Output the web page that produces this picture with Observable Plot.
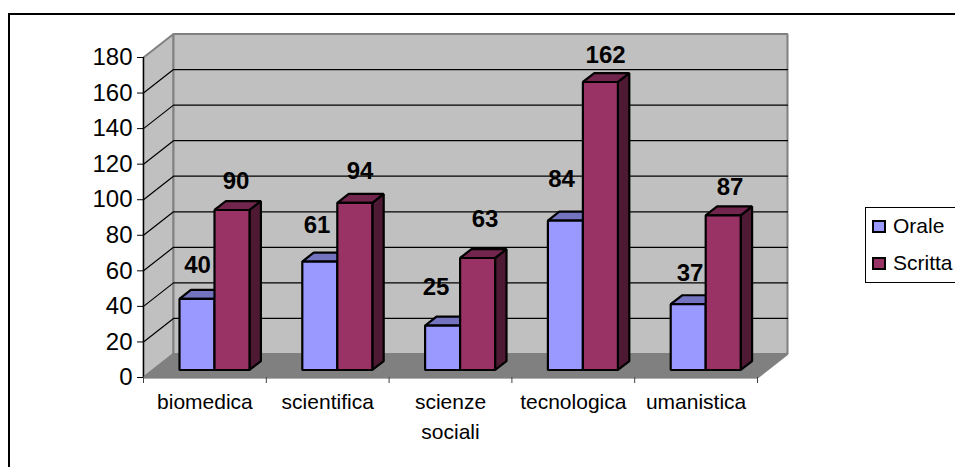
<!DOCTYPE html>
<html>
<head>
<meta charset="utf-8">
<script src="https://cdn.jsdelivr.net/npm/d3@7"></script>
<script src="https://cdn.jsdelivr.net/npm/@observablehq/plot@0.6"></script>
<style>
html,body{margin:0;padding:0;background:#fff;overflow:hidden;width:955px;height:467px}
#wrap{position:relative;width:955px;height:467px;overflow:hidden;font-family:"Liberation Sans",Arial,sans-serif}
#frame{position:absolute;left:8px;top:13px;width:960px;height:470px;border:2px solid #000;box-sizing:border-box}
#chart{position:absolute;left:0;top:0}
#chart svg{background:transparent}
#legend{position:absolute;left:865px;top:207px;width:110px;height:76px;border:1px solid #000;box-sizing:border-box;background:#fff;font-size:21px;color:#000}
.item{position:absolute;left:6px;display:flex;align-items:center;white-space:nowrap}
.sw{display:inline-block;width:14px;height:13px;border:2px solid #000;box-sizing:border-box;margin-right:7px}
</style>
</head>
<body>
<div id="wrap">
  <div id="frame"></div>
  <div id="chart"></div>
  <div id="legend">
    <div class="item" style="top:6px"><span class="sw" style="background:#9999FF"></span>Orale</div>
    <div class="item" style="top:43px"><span class="sw" style="background:#993366"></span>Scritta</div>
  </div>
</div>
<script>
// Data
const categories = ["biomedica", "scientifica", "scienze\nsociali", "tecnologica", "umanistica"];
const orale = [40, 61, 25, 84, 37];
const scritta = [90, 94, 63, 162, 87];
const yTicks = [0, 20, 40, 60, 80, 100, 120, 140, 160, 180];

// Label placement (pixel nudges from each bar's top)
const oraleNudgeX = [0.6, -2.7, -6.5, -3.8, 1.9];
const oraleNudgeY = [-33.4, -36, -38.6, -41.6, -31.2];
const scrittaNudgeX = [4.1, 5.3, 7.5, 5.2, 6.9];
const scrittaNudgeY = [-29, -31.9, -39, -27, -28.3];

// Layout of the oblique projection
const W = 955, H = 467, L = 143, R = 757, T = 57, B = 377;
const pxX = 5 / (R - L), pxY = 180 / (B - T);
const depthX = 30 * pxX, depthY = 23.5 * pxY;
const at = (c, v, d = 0) => ({x: c + d * depthX, y: v + d * depthY});
const barW = 0.285, front = 0.32, back = 0.7;

const poly = (id, fill, pts) => pts.map(p => ({id, fill, ...p}));
const walls = [
  ...poly("side", "#C0C0C0", [at(0, 0), at(0, 180), at(0, 180, 1), at(0, 0, 1)]),
  ...poly("back", "#C0C0C0", [at(0, 0, 1), at(0, 180, 1), at(5, 180, 1), at(5, 0, 1)]),
  ...poly("floor", "#808080", [at(0, 0), at(5, 0), at(5, 0, 1), at(0, 0, 1)])
];
const grid = yTicks.filter(v => v > 0 && v < 180)
  .flatMap(v => [at(0, v), at(0, v, 1), at(5, v, 1)].map(p => ({id: v, ...p})));

const series = [
  [orale, "#9999FF", "#7373BF", "#4D4D80", oraleNudgeX, oraleNudgeY],
  [scritta, "#993366", "#73264D", "#4D1933", scrittaNudgeX, scrittaNudgeY]
];
const bars = [];
const labels = [];
categories.forEach((_, i) => {
  series.forEach((s, k) => {
    const [vals, cFront, cTop, cSide, nx, ny] = s;
    const v = vals[i];
    const x0 = i + 0.5 - barW + k * barW, x1 = x0 + barW;
    const id = `${i}-${k}`;
    bars.push(
      ...poly(id + "s", cSide, [at(x1, 0, front), at(x1, v, front), at(x1, v, back), at(x1, 0, back)]),
      ...poly(id + "t", cTop, [at(x0, v, front), at(x1, v, front), at(x1, v, back), at(x0, v, back)]),
      ...poly(id + "f", cFront, [at(x0, 0, front), at(x1, 0, front), at(x1, v, front), at(x0, v, front)])
    );
    const p = at((x0 + x1) / 2, v, front);
    labels.push({x: p.x + nx[i] * pxX, y: p.y - ny[i] * pxY, text: String(v)});
  });
});

const chart = Plot.plot({
  width: W, height: H,
  marginLeft: L, marginRight: W - R, marginTop: T, marginBottom: H - B,
  style: {fontFamily: '"Liberation Sans", Arial, sans-serif', background: "transparent", overflow: "visible", color: "#000"},
  x: {domain: [0, 5], label: null},
  y: {domain: [0, 180], label: null},
  color: {type: "identity"},
  marks: [
    Plot.line(walls, {x: "x", y: "y", z: "id", fill: "fill", stroke: "#808080", strokeWidth: 2, curve: "linear-closed", strokeLinejoin: "miter"}),
    Plot.line(grid, {x: "x", y: "y", z: "id", stroke: "#000", strokeWidth: 1.2}),
    Plot.ruleX([0], {y1: 0, y2: 180, stroke: "#000", strokeWidth: 1.2}),
    Plot.ruleY([0], {x1: 0, x2: 5, stroke: "#808080", strokeWidth: 1.5}),
    Plot.axisY({ticks: yTicks, tickSize: 6, tickPadding: 5, fontSize: 24, label: null, stroke: "#000", strokeOpacity: 1}),
    Plot.axisX({ticks: [0, 1, 2, 3, 4, 5], tickSize: 6, tickFormat: () => "", label: null, stroke: "#404040", strokeOpacity: 1}),
    Plot.text(categories, {x: (_, i) => i + 0.5, y: () => 0, text: d => d, dy: 10, lineAnchor: "top", fontSize: 21, lineHeight: 1.43, fill: "#000"}),
    Plot.line(bars, {x: "x", y: "y", z: "id", fill: "fill", stroke: "#000", strokeWidth: 2.2, curve: "linear-closed", strokeLinejoin: "miter"}),
    Plot.text(labels, {x: "x", y: "y", text: "text", fontSize: 24, fontWeight: "bold", fill: "#000"})
  ]
});
document.getElementById("chart").appendChild(chart);
</script>
</body>
</html>
